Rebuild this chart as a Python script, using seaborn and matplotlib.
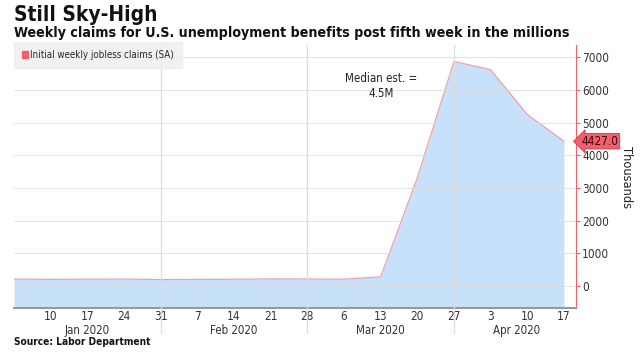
import matplotlib
matplotlib.use("Agg")
import matplotlib.pyplot as plt
import matplotlib.dates as mdates
import matplotlib.transforms as mtransforms
import seaborn as sns
import pandas as pd

# ---- data ----
dates = pd.date_range("2020-01-03", "2020-04-17", freq="7D")
claims = [214, 207, 211, 216, 201, 204, 210, 219, 217, 211, 282, 3307, 6867, 6615, 5245, 4427]
day_ticks = ["2020-01-10", "2020-01-17", "2020-01-24", "2020-01-31", "2020-02-07", "2020-02-14",
             "2020-02-21", "2020-02-28", "2020-03-06", "2020-03-13", "2020-03-20", "2020-03-27",
             "2020-04-03", "2020-04-10", "2020-04-17"]
month_labels = ["Jan 2020", "Feb 2020", "Mar 2020", "Apr 2020"]
month_label_pos = ["2020-01-17", "2020-02-14", "2020-03-13", "2020-04-08"]
month_separators = ["2020-01-31", "2020-02-28", "2020-03-27"]
y_ticks = [0, 1000, 2000, 3000, 4000, 5000, 6000, 7000]
series_name = "Initial weekly jobless claims (SA)"
last_value = 4427.0

df = pd.DataFrame({"date": dates, "claims": claims})

sns.set_style("white")
plt.rcParams["font.family"] = ["DejaVu Sans"]
plt.rcParams["font.stretch"] = "condensed"

fig = plt.figure(figsize=(6.43, 3.62), dpi=100)
ax = fig.add_axes([14/643, 1 - 308/362, (576-14)/643, (308-45)/362])

fill_c = "#c8e1fa"
line_c = "#eda0a8"
red = "#f0606c"

ax.fill_between(df["date"], df["claims"], -670, color=fill_c, zorder=1, lw=0)
sns.lineplot(data=df, x="date", y="claims", ax=ax, color=line_c, lw=0.9, zorder=2)

ax.set_xlim(pd.Timestamp("2020-01-03"), pd.Timestamp("2020-01-03") + pd.Timedelta(days=107.3))
ax.set_ylim(-670, 7370)

# grid
for v in y_ticks:
    ax.axhline(v, color="#dcdcdc", lw=0.7, zorder=3, alpha=0.8)
trans = mtransforms.blended_transform_factory(ax.transData, ax.transAxes)
for d in month_separators:
    x = mdates.date2num(pd.Timestamp(d))
    ax.plot([x, x], [1, -0.095], transform=trans, color="#dcdcdc", lw=0.9, clip_on=False, zorder=3)

# y axis on right
ax.yaxis.tick_right()
ax.yaxis.set_label_position("right")
ax.set_yticks(y_ticks)
ax.set_yticklabels([str(v) for v in y_ticks], fontsize=8.5, color="#333333")
ax.tick_params(axis="y", direction="out", length=3, width=0.8, color=red, pad=1.5)
ax.set_ylabel("Thousands", rotation=-90, labelpad=17, fontsize=9.2, color="#222222")

# x axis
ax.set_xticks([mdates.date2num(pd.Timestamp(d)) for d in day_ticks])
ax.set_xticklabels([str(pd.Timestamp(d).day) for d in day_ticks], fontsize=8.5, color="#333333")
ax.tick_params(axis="x", length=0, pad=1.5)
ax.set_xlabel("")
for lab, pos in zip(month_labels, month_label_pos):
    ax.text(mdates.date2num(pd.Timestamp(pos)), -0.06, lab, transform=trans, ha="center", va="top",
            fontsize=8.3, color="#333333")

for s in ["top", "left"]:
    ax.spines[s].set_visible(False)
ax.spines["right"].set_color(red)
ax.spines["right"].set_linewidth(0.8)
ax.spines["bottom"].set_color("#999999")
ax.spines["bottom"].set_linewidth(1.5)

# legend
leg = ax.legend(handles=[plt.Rectangle((0, 0), 1, 1, color=red)], labels=[series_name],
                loc="upper left", bbox_to_anchor=(0.005, 1.0), fontsize=7.0, frameon=True,
                handlelength=0.6, handleheight=0.6, handletextpad=0.3, borderpad=0.5,
                borderaxespad=0)
leg.get_frame().set_facecolor("#eeeeee")
leg.get_frame().set_edgecolor("#eeeeee")
leg.get_frame().set_boxstyle("square")
leg.set_zorder(5)

# annotation
ax.text(mdates.date2num(pd.Timestamp("2020-03-13")), 6120, "Median est. =\n4.5M", ha="center", va="center",
        fontsize=8.3, color="#222222", linespacing=1.2)

# last value tag
tagtrans = mtransforms.blended_transform_factory(ax.transAxes, ax.transData)
ax.annotate(f"{last_value:.1f}", xy=(1.0, last_value), xycoords=tagtrans,
            xytext=(4, 0), textcoords="offset points", ha="left", va="center", fontsize=8.5, color="#3a0008",
            bbox=dict(boxstyle="larrow,pad=0.1", fc=red, ec="#c83a48", lw=0.6), zorder=6,
            annotation_clip=False)

# titles
fig.text(14/643, 1 - 15/362, "Still Sky-High", fontsize=15, fontweight="bold", va="center", ha="left", color="#111111")
fig.text(14/643, 1 - 33/362, "Weekly claims for U.S. unemployment benefits post fifth week in the millions",
         fontsize=10.2, fontweight="bold", va="center", ha="left", color="#111111")
fig.text(14/643, 1 - 342/362, "Source: Labor Department", fontsize=7.3, fontweight="bold", va="center", ha="left",
         color="#111111")

fig.savefig("out.png", dpi=100)
